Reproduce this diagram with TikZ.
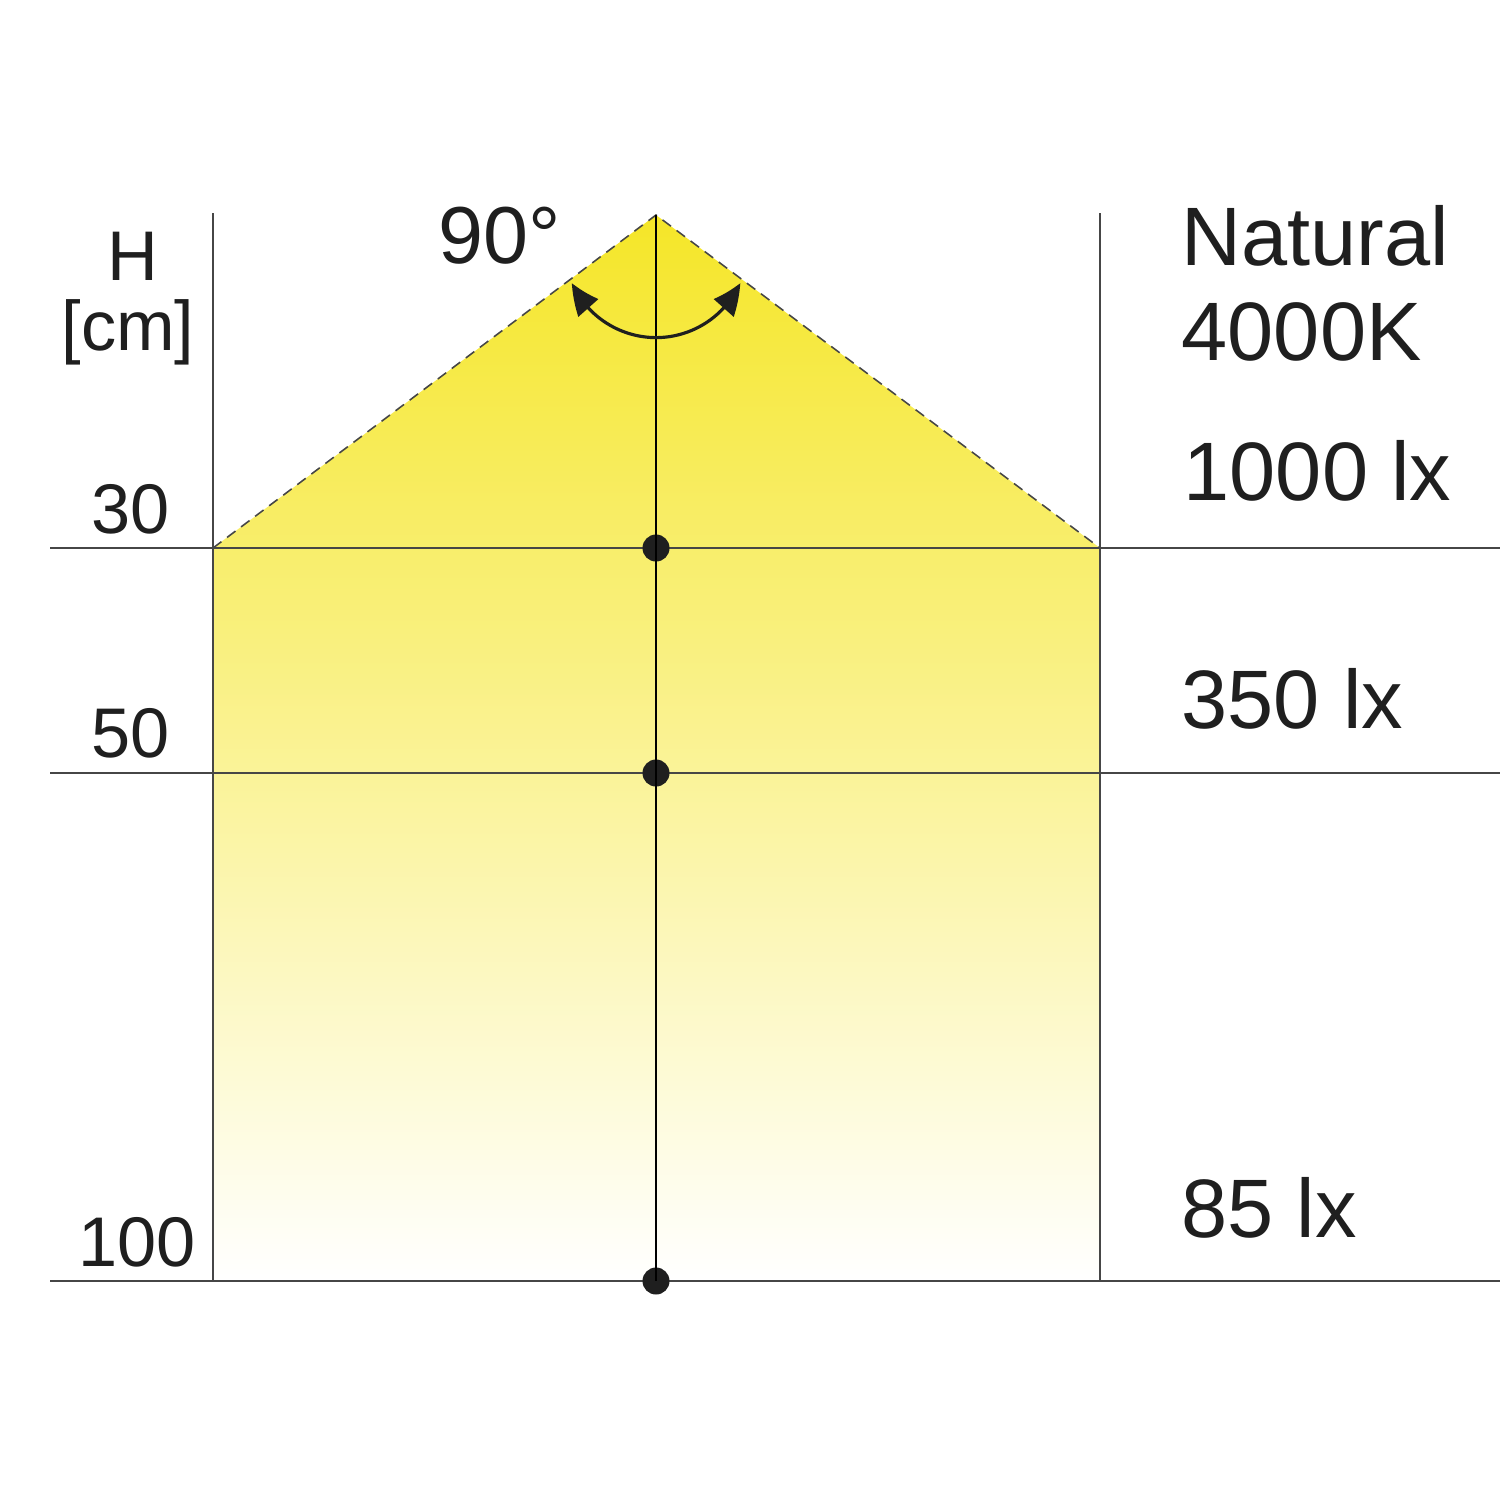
\documentclass[tikz,border=0pt]{standalone}
\usepackage{fontspec}
\setmainfont{Liberation Sans}
\usetikzlibrary{positioning,arrows.meta,bending}
\definecolor{lampyellow}{RGB}{245,230,40}
\definecolor{gridgray}{RGB}{70,70,70}
\tikzset{dot/.style={circle, fill=black!88, minimum size=0.27cm, inner sep=0pt},
       grid/.style={draw=gridgray, line width=0.45pt},
       beam/.style={draw=gridgray, line width=0.45pt, dash pattern=on 3pt off 2pt},
       lbl/.style={font=\fontsize{20}{24}\selectfont, inner sep=0pt, anchor=base, text=black!88},
       val/.style={font=\fontsize{23.6}{28}\selectfont, inner sep=0pt, anchor=base west, text=black!88}}

\begin{document}
\begin{tikzpicture}
\useasboundingbox (0,0) rectangle (15,-15);
\coordinate (apex) at (6.56,-2.15);
\coordinate (c30l) at (2.13,-5.48);
\coordinate (c30r) at (11.0,-5.48);
\coordinate (c100l) at (2.13,-12.81);
\coordinate (c100r) at (11.0,-12.81);
\shade[top color=lampyellow, bottom color=white] (c30l) -- (apex) -- (c30r) -- (c100r) -- (c100l) -- cycle;
\draw[grid] (2.13,-2.13) -- (c100l);
\draw[grid] (11.0,-2.13) -- (c100r);
\draw[grid] (0.5,-5.48) -- (15,-5.48);
\draw[grid] (0.5,-7.73) -- (15,-7.73);
\draw[grid] (0.5,-12.81) -- (15,-12.81);
\draw[beam] (c30l) -- (apex) -- (c30r);
\node[dot] (d30) at (6.56,-5.48) {};
\node[dot] (d50) at (6.56,-7.73) {};
\node[dot] (d100) at (6.56,-12.81) {};
\draw[line width=0.6pt] (apex) -- (d100.center);
\coordinate (swing) at (5.72,-2.83);
\draw[line width=0.9pt, black!88, {Triangle[length=0.3cm,width=0.26cm,bend]}-{Triangle[length=0.3cm,width=0.26cm,bend]}] (swing) arc[start angle=204, end angle=336, radius=0.92];
\node[lbl] (hlbl) at (1.33,-2.80) {H};
\node[lbl] (cmlbl) at (1.28,-3.50) {[cm]};
\node[lbl] (l30) at (1.31,-5.33) {30};
\node[lbl] (l50) at (1.31,-7.57) {50};
\node[lbl] (l100) at (1.37,-12.66) {100};
\node[val, font=\fontsize{23}{27}\selectfont] (angle) at (4.38,-2.63) {90°};
\node[val] (tname) at (11.81,-2.65) {Natural};
\node[val] (ttemp) at (11.81,-3.60) {4000K};
\node[val] (lx30) at (11.83,-5.00) {1000 lx};
\node[val] (lx50) at (11.81,-7.28) {350 lx};
\node[val] (lx100) at (11.81,-12.37) {85 lx};
\end{tikzpicture}
\end{document}
